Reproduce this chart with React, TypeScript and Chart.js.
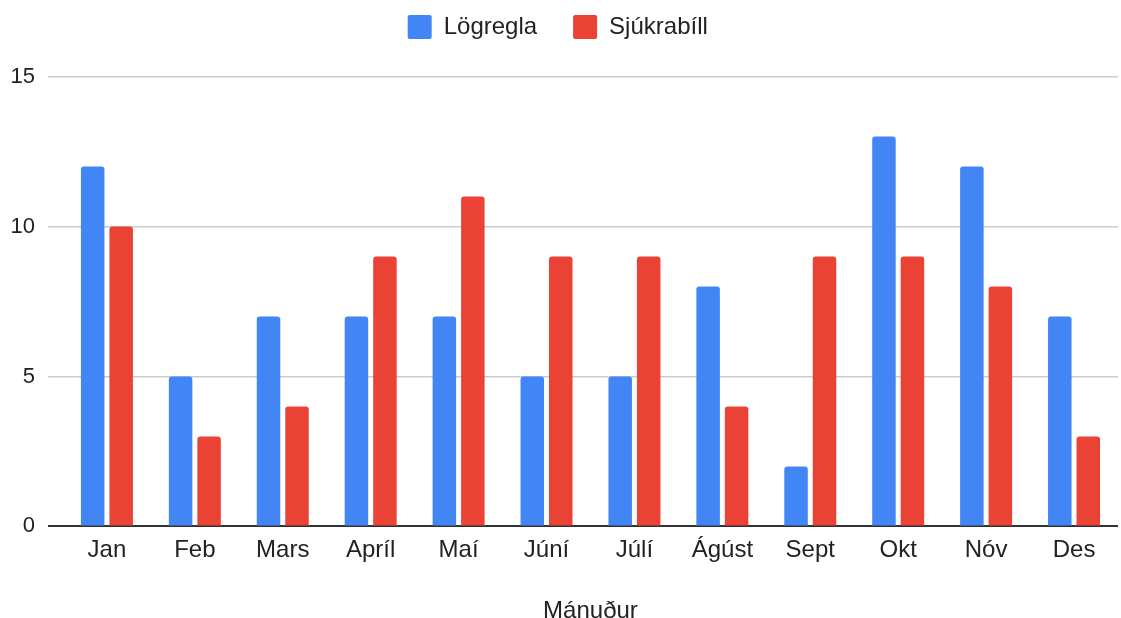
import React, { useEffect, useRef } from "react";
import { Chart, registerables } from "chart.js";

Chart.register(...registerables);

const categories = ["Jan", "Feb", "Mars", "Apríl", "Maí", "Júní", "Júlí", "Ágúst", "Sept", "Okt", "Nóv", "Des"];
const logreglaValues = [12, 5, 7, 7, 7, 5, 5, 8, 2, 13, 12, 7];
const sjukrabillValues = [10, 3, 4, 9, 11, 9, 9, 4, 9, 9, 8, 3];
const seriesNames = ["Lögregla", "Sjúkrabíll"];
const yTicks = [0, 5, 10, 15];
const xTitle = "Mánuður";

const FONT = "'Liberation Sans', Arial, sans-serif";

export default function App() {
  const ref = useRef<HTMLCanvasElement | null>(null);

  useEffect(() => {
    document.body.style.margin = "0";
    const canvas = ref.current;
    if (!canvas) return;
    const legendMargin = {
      id: "legendMargin",
      beforeInit(chart: any) {
        const legend = chart.legend;
        if (!legend) return;
        const orig = legend.fit;
        legend.fit = function () {
          orig.call(this);
          this.height += 27.6;
        };
      },
    };
    const chart = new Chart(canvas, {
      type: "bar",
      data: {
        labels: categories,
        datasets: [
          {
            label: seriesNames[0],
            data: logreglaValues,
            backgroundColor: "#4285F4",
            borderWidth: 0,
            borderRadius: { topLeft: 3, topRight: 3, bottomLeft: 0, bottomRight: 0 },
            borderSkipped: false,
            categoryPercentage: 0.648,
            barPercentage: 0.825,
          },
          {
            label: seriesNames[1],
            data: sjukrabillValues,
            backgroundColor: "#EA4335",
            borderWidth: 0,
            borderRadius: { topLeft: 3, topRight: 3, bottomLeft: 0, bottomRight: 0 },
            borderSkipped: false,
            categoryPercentage: 0.648,
            barPercentage: 0.825,
          },
        ],
      },
      options: {
        responsive: false,
        animation: false,
        layout: { padding: { top: -21, left: -2.5, right: 3, bottom: 0 } },
        plugins: {
          legend: {
            position: "top",
            align: "center",
            labels: {
              boxWidth: 24,
              boxHeight: 24,
              padding: 36,
              color: "#222",
              useBorderRadius: true,
              borderRadius: 2,
              font: { family: FONT, size: 24 },
            },
          },
          tooltip: { enabled: false },
        },
        scales: {
          x: {
            grid: { display: false, drawTicks: false },
            border: { display: false },
            ticks: { color: "#222", padding: 10, font: { family: FONT, size: 24 } },
            title: {
              display: true,
              text: xTitle,
              color: "#222",
              font: { family: FONT, size: 24 },
              padding: { top: 22, bottom: 3 },
            },
          },
          y: {
            min: 0,
            max: 15,
            afterBuildTicks(axis: any) {
              axis.ticks = yTicks.map((v) => ({ value: v }));
            },
            border: { display: false },
            grid: {
              color: (ctx: any) => (ctx.tick && ctx.tick.value === 0 ? "#333" : "#ccc"),
              lineWidth: (ctx: any) => (ctx.tick && ctx.tick.value === 0 ? 2 : 1.5),
              tickLength: 15,
              drawTicks: true,
            },
            ticks: { color: "#222", padding: 13, font: { family: FONT, size: 22 } },
          },
        },
      },
      plugins: [legendMargin],
    });
    return () => chart.destroy();
  }, []);

  return (
    <div style={{ position: "fixed", left: 0, top: 0, width: 1121, height: 618, overflow: "hidden", background: "#fff" }}>
      <canvas ref={ref} width={1121} height={629} style={{ display: "block" }} />
    </div>
  );
}
